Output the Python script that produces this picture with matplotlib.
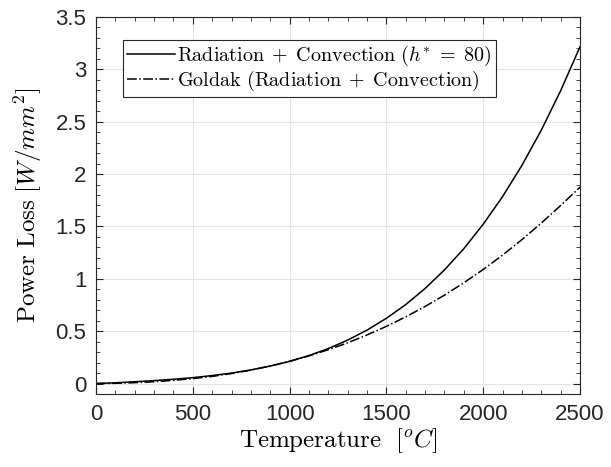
import matplotlib
matplotlib.use("Agg")
import matplotlib.pyplot as plt
from matplotlib.ticker import MultipleLocator, FuncFormatter

# Data (Temperature in deg C, power loss in W/mm^2)
temperature = [0, 100, 200, 300, 400, 500, 600, 700, 800, 900, 1000, 1100, 1200,
               1300, 1400, 1500, 1600, 1700, 1800, 1900, 2000, 2100, 2200, 2300,
               2400, 2500]
rad_conv = [0.000, 0.007, 0.017, 0.028, 0.041, 0.056, 0.076, 0.100, 0.130, 0.167,
            0.212, 0.267, 0.334, 0.415, 0.510, 0.623, 0.754, 0.908, 1.085, 1.288,
            1.521, 1.785, 2.083, 2.419, 2.796, 3.215]
goldak = [0.000, 0.002, 0.008, 0.017, 0.030, 0.047, 0.068, 0.095, 0.128, 0.167,
          0.212, 0.264, 0.323, 0.389, 0.464, 0.546, 0.637, 0.736, 0.844, 0.962,
          1.089, 1.226, 1.374, 1.532, 1.700, 1.875]

labels = [r'$\mathrm{Radiation}\;+\;\mathrm{Convection}\ (h^{*}\;=\;80)$',
          r'$\mathrm{Goldak}\ (\mathrm{Radiation}\;+\;\mathrm{Convection})$']

plt.rcParams['mathtext.fontset'] = 'cm'
plt.rcParams['font.family'] = ['Liberation Sans', 'DejaVu Sans']

fig = plt.figure(figsize=(6.11, 4.67), dpi=100)
ax = fig.add_axes([96/611, 1-394/467, (580-96)/611, (394-17)/467])

ax.plot(temperature, rad_conv, '-', color='black', lw=1.1, label=labels[0])
ax.plot(temperature, goldak, '-.', color='black', lw=1.1, label=labels[1])

ax.set_xlim(0, 2500)
ax.set_ylim(-0.1, 3.5)
ax.xaxis.set_major_locator(MultipleLocator(500))
ax.xaxis.set_minor_locator(MultipleLocator(100))
ax.yaxis.set_major_locator(MultipleLocator(0.5))
ax.yaxis.set_minor_locator(MultipleLocator(0.1))
ax.yaxis.set_major_formatter(FuncFormatter(lambda v, p: ('%g' % round(v, 2)) if v >= -1e-9 else ''))

ax.grid(True, which='major', color='#e3e3e3', lw=0.8)
ax.set_axisbelow(True)
for s in ax.spines.values():
    s.set_color('#262626')
    s.set_linewidth(0.8)
ax.tick_params(which='both', direction='in', top=True, right=True, colors='#262626')
ax.tick_params(which='major', length=5, width=0.8, labelsize=16, pad=7)
ax.tick_params(which='minor', length=3, width=0.6)

ax.set_xlabel(r'$\mathrm{Temperature}\ \ [^{o}C]$', fontsize=18, labelpad=1)
ax.set_ylabel(r'$\mathrm{Power\ Loss}\ [W/mm^{2}]$', fontsize=18, labelpad=8)

leg = ax.legend(loc='upper left', bbox_to_anchor=(27/484, 1-23/377), fontsize=14.5,
                frameon=True, fancybox=False, edgecolor='#262626', framealpha=1,
                borderpad=0.2, handlelength=2.4, handletextpad=0.1, labelspacing=0.05,
                borderaxespad=0)
leg.get_frame().set_linewidth(0.8)

fig.savefig('out.png', dpi=100)
